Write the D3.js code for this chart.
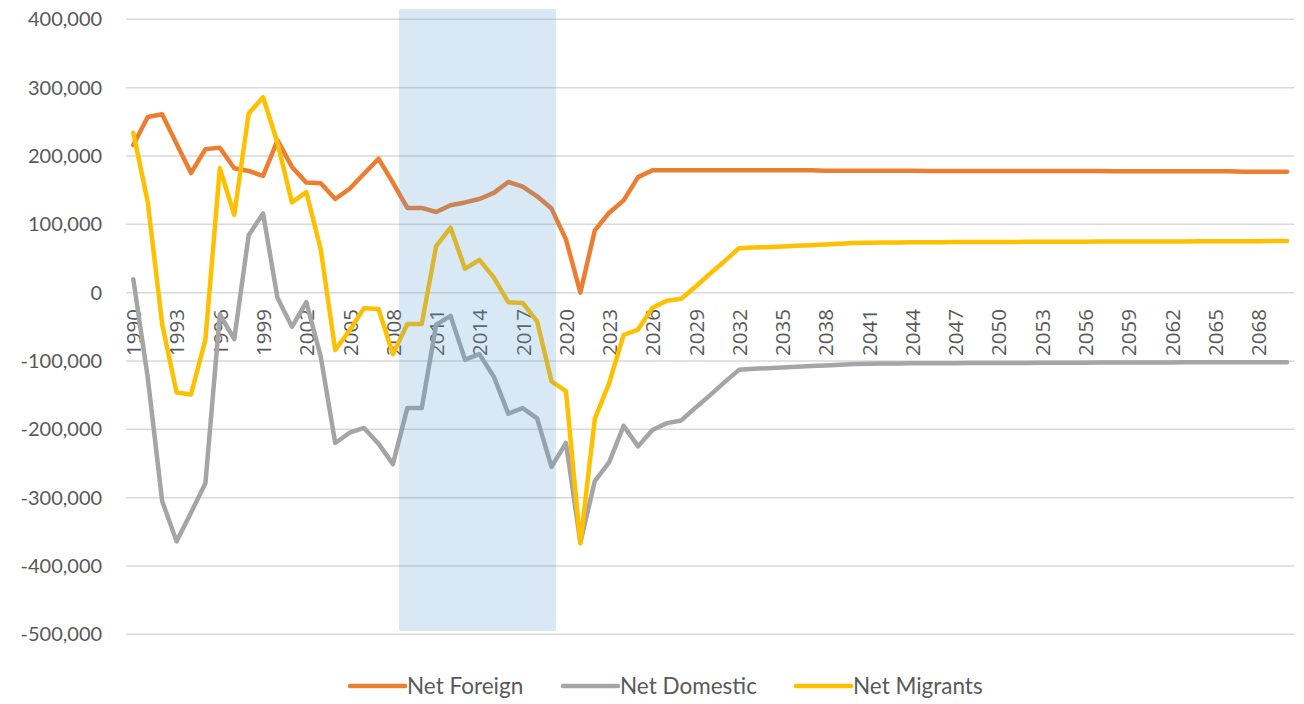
<!DOCTYPE html>
<html>
<head>
<meta charset="utf-8">
<script src="https://cdn.jsdelivr.net/npm/d3@7"></script>
<style>
  html, body { margin: 0; padding: 0; background: #ffffff; }
  svg { display: block; }
</style>
</head>
<body>
<svg id="chart" width="1304" height="704"></svg>
<script>
// ---------- DATA ----------
const years = d3.range(1990, 2071);

const netForeign = [
  216000, 257000, 261000, 218000, 175000, 210000, 212000, 182000, 178000, 171000,
  223000, 184000, 161000, 160000, 137000, 152000, 174000, 196000, 161000, 124000,
  124000, 118000, 128000, 132000, 137000, 146000, 162000, 155000, 141000, 123000,
  78000, 0, 91000, 117000, 135000, 169000, 179000, 179000, 179000, 179000,
  179000, 179000, 179000, 179000, 179000, 179000, 179000, 179000, 178500, 178500,
  178500, 178500, 178500, 178500, 178500, 178000, 178000, 178000, 178000, 178000,
  178000, 178000, 178000, 178000, 178000, 178000, 178000, 178000, 177500, 177500,
  177500, 177500, 177500, 177500, 177500, 177500, 177500, 177000, 177000, 177000,
  177000
];

const netDomestic = [
  19600, -124000, -305000, -364000, -322000, -279000, -32000, -68000, 84000, 116000,
  -8000, -50000, -14000, -94000, -220000, -205000, -198000, -221000, -251000, -169000,
  -169000, -47000, -34000, -98000, -90000, -123000, -177000, -169000, -184000, -255000,
  -220000, -366000, -276000, -248000, -195000, -225000, -201000, -191000, -187000, -168000,
  -150000, -131000, -113000, -111500, -110500, -109500, -108500, -107500, -106500, -105500,
  -104500, -104000, -103800, -103600, -103500, -103400, -103300, -103200, -103100, -103000,
  -103000, -102900, -102800, -102700, -102600, -102500, -102500, -102400, -102300, -102200,
  -102200, -102100, -102100, -102000, -102000, -102000, -102000, -102000, -102000, -102000,
  -102000
];

const netMigrants = [
  234000, 133000, -46000, -146000, -149000, -69000, 182000, 114000, 262000, 286000,
  219000, 132000, 147000, 63000, -84000, -55000, -23000, -24000, -90000, -46000,
  -46000, 68000, 95000, 35000, 48000, 22000, -14000, -15000, -42000, -130000,
  -144000, -367000, -185000, -132000, -62000, -54000, -22000, -12000, -9000, 9000,
  28000, 46000, 65000, 66000, 66500, 67500, 68500, 69500, 70500, 71500,
  72500, 73000, 73500, 73500, 73700, 73800, 73900, 74000, 74000, 74000,
  74100, 74200, 74300, 74400, 74500, 74500, 74600, 74700, 74800, 74800,
  74900, 74900, 75000, 75000, 75100, 75100, 75200, 75200, 75300, 75400,
  75500
];

const seriesNames = ["Net Foreign", "Net Domestic", "Net Migrants"];
const seriesColors = ["#ED7D31", "#A5A5A5", "#FFC000"];

const yTicks = [400000, 300000, 200000, 100000, 0, -100000, -200000, -300000, -400000, -500000];
const xTickYears = d3.range(1990, 2070, 3);

// shaded period (years, values)
const bandYears = [2008.43, 2019.3];
const bandValues = [415000, -495000];

// ---------- LAYOUT ----------
const svg = d3.select("#chart");
const font = "Lato, 'Open Sans', sans-serif";
const textColor = "#595959";

const x = d3.scaleLinear().domain([1990, 2070]).range([133.3, 1287]);
const y = d3.scaleLinear().domain([-500000, 400000]).range([634.3, 19.3]);

const plotLeft = x(1989.5), plotRight = x(2070.5);

// gridlines
svg.append("g").selectAll("line")
  .data(yTicks)
  .join("line")
  .attr("x1", plotLeft).attr("x2", plotRight)
  .attr("y1", d => y(d)).attr("y2", d => y(d))
  .attr("stroke", "#D9D9D9").attr("stroke-width", 1.5);

// y axis
const loc = d3.formatLocale({decimal: ".", thousands: ",", grouping: [3], currency: ["", ""], minus: "-"});
const yAxis = d3.axisLeft(y).tickValues(yTicks).tickFormat(loc.format(",")).tickSize(0).tickPadding(24);
const gy = svg.append("g").attr("transform", `translate(${plotLeft},0)`).call(yAxis);
gy.select(".domain").remove();
gy.selectAll("text").attr("font-family", font).attr("font-size", 20).attr("fill", textColor);

// x axis labels at zero line
const xAxis = d3.axisBottom(x).tickValues(xTickYears).tickFormat(d => String(d)).tickSize(0);
const gx = svg.append("g").attr("transform", `translate(0,${y(0)})`).call(xAxis);
gx.select(".domain").remove();
gx.selectAll("text")
  .attr("font-family", "'Open Sans', sans-serif")
  .attr("font-size", 20.5)
  .attr("fill", textColor)
  .attr("transform", "rotate(-90)")
  .attr("text-anchor", "end")
  .attr("x", -16.5).attr("y", 0).attr("dy", "0.36em");

// lines
const seriesData = [netForeign, netDomestic, netMigrants];
const line = d3.line().x((d, i) => x(years[i])).y(d => y(d));
svg.append("g").selectAll("path")
  .data(seriesData)
  .join("path")
  .attr("d", d => line(d))
  .attr("fill", "none")
  .attr("stroke", (d, i) => seriesColors[i])
  .attr("stroke-width", 4.5)
  .attr("stroke-linejoin", "round")
  .attr("stroke-linecap", "round");

// shaded band overlay
svg.append("rect")
  .attr("x", x(bandYears[0]))
  .attr("y", y(bandValues[0]))
  .attr("width", x(bandYears[1]) - x(bandYears[0]))
  .attr("height", y(bandValues[1]) - y(bandValues[0]))
  .attr("fill", "#5B9BD5")
  .attr("fill-opacity", 0.23);

// legend
const legendX = [350, 563, 796];
const legendY = 686;
const lg = svg.append("g").selectAll("g")
  .data(seriesNames)
  .join("g")
  .attr("transform", (d, i) => `translate(${legendX[i]},${legendY})`);
lg.append("line")
  .attr("x1", 0).attr("x2", 55).attr("y1", 0).attr("y2", 0)
  .attr("stroke", (d, i) => seriesColors[i])
  .attr("stroke-width", 4.5)
  .attr("stroke-linecap", "round");
lg.append("text")
  .attr("x", 57).attr("y", 0).attr("dy", "0.35em")
  .attr("font-family", font).attr("font-size", 22.5)
  .attr("fill", textColor)
  .text(d => d);
</script>
</body>
</html>
